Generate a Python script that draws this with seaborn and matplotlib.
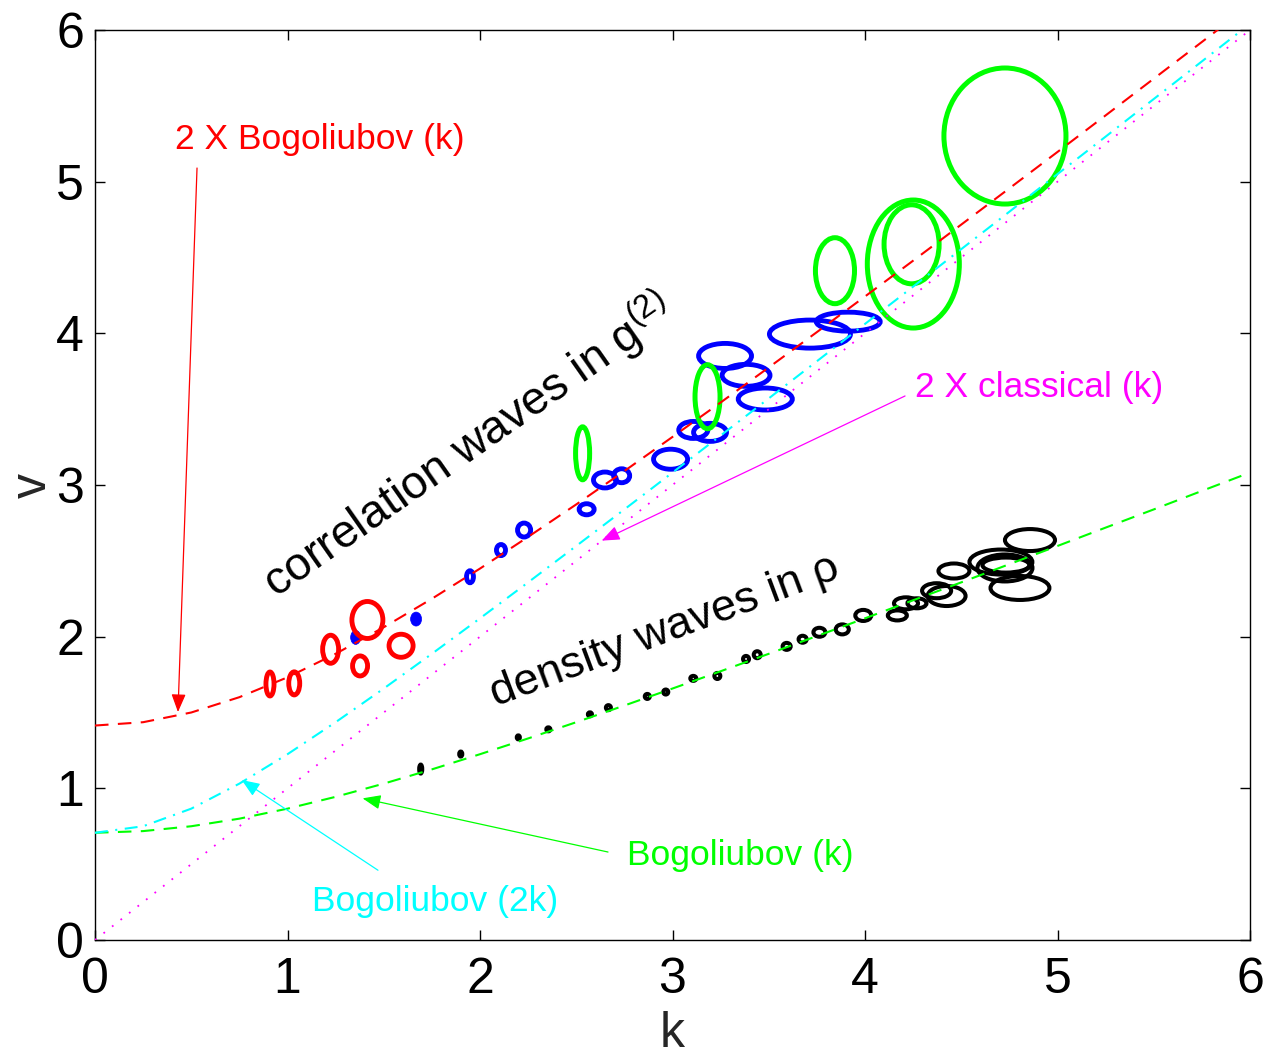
import matplotlib
matplotlib.use("Agg")
import matplotlib.pyplot as plt
from matplotlib.patches import Ellipse
import seaborn as sns

# ---------------------------------------------------------------
# Dispersion curves v(k), sampled on a regular k grid
# ---------------------------------------------------------------
k_grid = [0.0, 0.25, 0.5, 0.75, 1.0, 1.25, 1.5, 1.75, 2.0, 2.25, 2.5, 2.75,
          3.0, 3.25, 3.5, 3.75, 4.0, 4.25, 4.5, 4.75, 5.0, 5.25, 5.5, 5.75, 6.0]

bog_k = [0.707, 0.718, 0.750, 0.800, 0.866, 0.944, 1.031, 1.125, 1.225,
         1.329, 1.436, 1.546, 1.658, 1.772, 1.887, 2.004, 2.121, 2.240,
         2.358, 2.478, 2.598, 2.719, 2.839, 2.961, 3.082]

bog_2x_k = [1.414, 1.436, 1.500, 1.601, 1.732, 1.887, 2.062, 2.250, 2.449,
            2.658, 2.872, 3.092, 3.317, 3.544, 3.775, 4.008, 4.243, 4.479,
            4.717, 4.956, 5.196, 5.437, 5.679, 5.921, 6.164]

bog_2k = [0.707, 0.750, 0.866, 1.031, 1.225, 1.436, 1.658, 1.887, 2.121,
          2.358, 2.598, 2.839, 3.082, 3.326, 3.571, 3.816, 4.062, 4.308,
          4.555, 4.802, 5.050, 5.297, 5.545, 5.793, 6.041]

classical_2x = [0.0, 0.25, 0.5, 0.75, 1.0, 1.25, 1.5, 1.75, 2.0, 2.25, 2.5,
                2.75, 3.0, 3.25, 3.5, 3.75, 4.0, 4.25, 4.5, 4.75, 5.0, 5.25,
                5.5, 5.75, 6.0]

# ---------------------------------------------------------------
# Fitted wave packets: centre (k, v) and ellipse extents (dk, dv)
# ---------------------------------------------------------------
red_k = [0.909, 1.035, 1.224, 1.415, 1.377, 1.590]
red_v = [1.688, 1.692, 1.917, 2.110, 1.807, 1.940]
red_dk = [0.042, 0.057, 0.083, 0.161, 0.078, 0.125]
red_dv = [0.158, 0.152, 0.185, 0.244, 0.132, 0.152]

blue_fill_k = [1.354, 1.668]
blue_fill_v = [1.995, 2.116]
blue_fill_dk = [0.052, 0.057]
blue_fill_dv = [0.092, 0.092]

blue_k = [1.948, 2.109, 2.229, 2.554, 2.649, 2.736, 2.990, 3.108, 3.195,
          3.273, 3.382, 3.482, 3.714, 3.913]
blue_v = [2.395, 2.571, 2.703, 2.840, 3.033, 3.061, 3.170, 3.363, 3.347,
          3.851, 3.723, 3.567, 3.995, 4.077]
blue_dk = [0.036, 0.047, 0.068, 0.078, 0.119, 0.083, 0.177, 0.151, 0.171,
           0.275, 0.249, 0.281, 0.421, 0.332]
blue_dv = [0.079, 0.073, 0.092, 0.073, 0.105, 0.092, 0.132, 0.112, 0.119,
           0.165, 0.145, 0.145, 0.185, 0.125]

green_k = [2.533, 3.182, 3.844, 4.242, 4.251, 4.727]
green_v = [3.209, 3.582, 4.413, 4.587, 4.457, 5.301]
green_dk = [0.073, 0.130, 0.203, 0.286, 0.478, 0.634]
green_dv = [0.349, 0.422, 0.435, 0.521, 0.844, 0.897]

black_k = [1.692, 1.900, 2.199, 2.355, 2.571, 2.667, 2.869, 2.965, 3.108,
           3.233, 3.382, 3.440, 3.593, 3.676, 3.763, 3.882, 3.991, 4.168,
           4.213, 4.270, 4.372, 4.424, 4.462, 4.706, 4.727, 4.732, 4.805,
           4.857]
black_v = [1.127, 1.226, 1.336, 1.389, 1.488, 1.532, 1.606, 1.635, 1.725,
           1.741, 1.853, 1.881, 1.936, 1.983, 2.029, 2.048, 2.140, 2.140,
           2.220, 2.220, 2.303, 2.268, 2.433, 2.492, 2.453, 2.472, 2.321,
           2.637]
black_dk = [0.016, 0.016, 0.016, 0.021, 0.021, 0.026, 0.026, 0.026, 0.031,
            0.031, 0.031, 0.036, 0.042, 0.042, 0.062, 0.068, 0.083, 0.099,
            0.125, 0.099, 0.151, 0.197, 0.161, 0.327, 0.286, 0.244, 0.306,
            0.260]
black_dv = [0.059, 0.033, 0.026, 0.026, 0.026, 0.033, 0.033, 0.033, 0.033,
            0.040, 0.040, 0.046, 0.046, 0.046, 0.059, 0.066, 0.073, 0.066,
            0.079, 0.066, 0.099, 0.132, 0.099, 0.165, 0.178, 0.099, 0.158,
            0.145]

tick_values = [0, 1, 2, 3, 4, 5, 6]

# ---------------------------------------------------------------
sns.set_theme(style="ticks")
plt.rcParams["font.family"] = ["Liberation Sans", "DejaVu Sans"]
plt.rcParams["mathtext.fontset"] = "custom"
plt.rcParams["mathtext.rm"] = "Liberation Sans"
plt.rcParams["mathtext.it"] = "Liberation Sans"
plt.rcParams["mathtext.default"] = "regular"

fig = plt.figure(figsize=(12.7, 10.57), dpi=100)
ax = fig.add_axes([95 / 1270, 117 / 1057, 1155 / 1270, 910 / 1057])
fig.patch.set_facecolor("white")
ax.set_facecolor("white")

RED = (1, 0, 0)
GREEN = (0, 1, 0)
BLUE = (0, 0, 1)
CYAN = (0, 1, 1)
MAGENTA = (1, 0, 1)


def add_ellipses(ks, vs, dks, dvs, color, lw, filled=False):
    for k, v, dk, dv in zip(ks, vs, dks, dvs):
        ax.add_patch(Ellipse((k, v), dk, dv,
                             facecolor=color if filled else "none",
                             edgecolor=color, linewidth=lw, zorder=2))


add_ellipses(black_k, black_v, black_dk, black_dv, "black", 2.9)
add_ellipses(blue_k, blue_v, blue_dk, blue_dv, BLUE, 3.5)
add_ellipses(blue_fill_k, blue_fill_v, blue_fill_dk, blue_fill_dv, BLUE, 0.5,
             filled=True)
add_ellipses(red_k, red_v, red_dk, red_dv, RED, 3.5)
add_ellipses(green_k, green_v, green_dk, green_dv, GREEN, 3.6)

# dispersion curves
sns.lineplot(x=k_grid, y=bog_2x_k, ax=ax, color=RED, linewidth=1.5,
             linestyle=(0, (6.5, 4.5)), zorder=3)
sns.lineplot(x=k_grid, y=bog_k, ax=ax, color=GREEN, linewidth=1.5,
             linestyle=(0, (6.5, 4.5)), zorder=3)
sns.lineplot(x=k_grid, y=bog_2k, ax=ax, color=CYAN, linewidth=1.5,
             linestyle=(0, (6.2, 3.6, 1.0, 3.6)), zorder=3)
sns.lineplot(x=k_grid, y=classical_2x, ax=ax, color=MAGENTA, linewidth=1.3,
             linestyle=(0, (1.0, 5.0)), zorder=3)

ax.set_xlim(0, 6)
ax.set_ylim(0, 6)
ax.set_xticks(tick_values)
ax.set_yticks(tick_values)
ax.tick_params(axis="both", which="both", direction="in", length=7, width=1,
               top=True, right=True, labelsize=36, colors="black")
ax.tick_params(axis="x", pad=12)
ax.tick_params(axis="y", pad=8)
for s in ax.spines.values():
    s.set_linewidth(1.0)
    s.set_color("black")
ax.grid(False)

ax.set_xlabel("k", fontsize=36, labelpad=6)
ax.set_ylabel("v", fontsize=36, labelpad=0)

# curve annotations
arrow_kw = dict(lw=0.9, shrinkA=0, shrinkB=0, mutation_scale=20)
head = "-|>,head_length=0.55,head_width=0.22"
ax.text(1.169, 5.275, "2 X Bogoliubov (k)", fontsize=25.5, color=RED,
        ha="center", va="center")
ax.annotate("", xy=(0.431, 1.503), xytext=(0.530, 5.09),
            arrowprops=dict(arrowstyle=head, color=RED, **arrow_kw))

ax.text(4.904, 3.646, "2 X classical (k)", fontsize=25.5, color=MAGENTA,
        ha="center", va="center")
ax.annotate("", xy=(2.632, 2.633), xytext=(4.208, 3.587),
            arrowprops=dict(arrowstyle=head, color=MAGENTA, **arrow_kw))

ax.text(3.351, 0.560, "Bogoliubov (k)", fontsize=25.5, color=GREEN,
        ha="center", va="center")
ax.annotate("", xy=(1.39, 0.934), xytext=(2.665, 0.580),
            arrowprops=dict(arrowstyle=head, color=GREEN, **arrow_kw))

ax.text(1.766, 0.251, "Bogoliubov (2k)", fontsize=25.5, color=CYAN,
        ha="center", va="center")
ax.annotate("", xy=(0.762, 1.055), xytext=(1.47, 0.46),
            arrowprops=dict(arrowstyle=head, color=CYAN, **arrow_kw))

# wave family labels
ax.text(0.94, 2.25, "correlation waves in g$^{(2)}$", fontsize=33.5,
        rotation=35, rotation_mode="anchor", ha="left", va="baseline",
        color="black")
ax.text(2.08, 1.54, "density waves in ρ", fontsize=32.5,
        rotation=20.5, rotation_mode="anchor", ha="left", va="baseline",
        color="black")

fig.savefig("out.png", dpi=100, facecolor="white")
